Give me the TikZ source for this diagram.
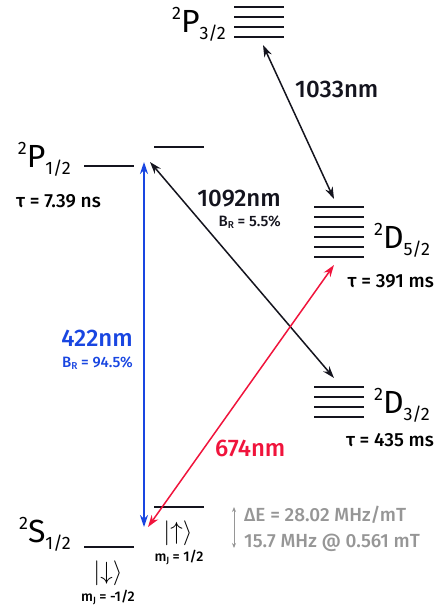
\documentclass[tikz,border=0pt]{standalone}
\usepackage{fontspec}
\setmainfont{Fira Sans}[UprightFont=* Medium]
\newfontfamily\termfont{Fira Sans}
\usetikzlibrary{arrows.meta}
\definecolor{ionblue}{RGB}{25,70,225}
\definecolor{ionred}{RGB}{240,20,60}
\definecolor{ionblack}{RGB}{20,20,30}
\definecolor{iongrey}{RGB}{150,150,150}
\newcommand{\fsz}[1]{\fontsize{#1}{#1}\selectfont}
\newcommand{\term}[3]{{\termfont{\fsz{18}\raisebox{13pt}{#1}}{\fsz{32}#2}{\fsz{18}\raisebox{-7pt}{#3}}}}
\newcommand{\branch}[1]{B\raisebox{-2.5pt}{\fsz{10}R} = #1}
\newcommand{\mj}[1]{m\raisebox{-2pt}{\fsz{9}J} = #1}

\begin{document}
\begin{tikzpicture}[x=1pt,y=-1pt,
 lvl/.style={line width=2pt,ionblack},
 tr/.style={line width=1.5pt,{Stealth[length=12pt,width=8pt]}-{Stealth[length=12pt,width=8pt]}},
 big/.style={font=\fsz{24},inner sep=0pt},
 small/.style={font=\fsz{15},inner sep=0pt},
 life/.style={font=\fsz{19},inner sep=0pt},
 ket/.style={font=\fsz{28},inner sep=0pt},
 mlab/.style={font=\fsz{14},inner sep=0pt}]
 \useasboundingbox (0,0) rectangle (435,610);
 \foreach \y in {7,17,27,37} \draw[lvl] (234,\y) -- (284,\y);
 \draw[lvl] (84,166) -- (134,166);
 \draw[lvl] (154,147) -- (204,147);
 \foreach \y in {207,217,...,257} \draw[lvl] (314,\y) -- (364,\y);
 \foreach \y in {387,397,...,417} \draw[lvl] (314,\y) -- (364,\y);
 \draw[lvl] (154,507) -- (204,507);
 \draw[lvl] (84,547) -- (134,547);

 \node[inner sep=0pt,anchor=base east](p32) at (226,33){\term{2}{P}{3/2}};
 \node[inner sep=0pt,anchor=base east](p12) at (71,167){\term{2}{P}{1/2}};
 \node[inner sep=0pt,anchor=base east](s12) at (71,542){\term{2}{S}{1/2}};
 \node[inner sep=0pt,anchor=base west](d52) at (374,248){\term{2}{D}{5/2}};
 \node[inner sep=0pt,anchor=base west](d32) at (374,413){\term{2}{D}{3/2}};
 \node[life,anchor=base west](tp12) at (16,207){τ = 7.39 ns};
 \node[life,anchor=base east](td52) at (434,287){τ = 391 ms};
 \node[life,anchor=base east](td32) at (434,446){τ = 435 ms};

 \coordinate (p32bot) at (263,45);
 \coordinate (d52top) at (334,199);
 \coordinate (d52bot) at (334,265);
 \coordinate (d32top) at (334,378);
 \coordinate (p12blue) at (144,162);
 \coordinate (p12black) at (150,162);
 \coordinate (s12blue) at (144,527);
 \coordinate (s12red) at (148,527);

 \draw[tr,ionblack](p32bot)--(d52top);
 \draw[tr,ionblack](p12black)--(d32top);
 \draw[tr,ionblue](p12blue)--(s12blue);
 \draw[tr,ionred](s12red)--(d52bot);

 \node[big,anchor=base west,ionblack](l1033) at (295,97){1033nm};
 \node[big,anchor=base east,ionblack](l1092) at (281,206){1092nm};
 \node[small,anchor=base east,ionblack](b1092) at (281,226){\branch{5.5\%}};
 \node[big,anchor=base east,ionblue](l422) at (133,346){422nm};
 \node[small,anchor=base east,ionblue](b422) at (133,367){\branch{94.5\%}};
 \node[big,anchor=base west,ionred](l674) at (215,456){674nm};

 \node[ket](up) at (178,533){$|{\uparrow}\rangle$};
 \node[mlab,anchor=base](mup) at (179,561){\mj{1/2}};
 \node[ket](down) at (108,573){$|{\downarrow}\rangle$};
 \node[mlab,anchor=base](mdown) at (108,601){\mj{-1/2}};

 \coordinate (zup) at (234,507);
 \coordinate (zdown) at (234,548);
 \draw[iongrey,line width=1pt,{Stealth[length=5pt,width=4pt]}-{Stealth[length=5pt,width=4pt]}](zup)--(zdown);
 \node[life,anchor=base west,iongrey](zee1) at (244,521){ΔE = 28.02 MHz/mT};
 \node[life,anchor=base west,iongrey](zee2) at (244,547){15.7 MHz @ 0.561 mT};
\end{tikzpicture}
\end{document}
